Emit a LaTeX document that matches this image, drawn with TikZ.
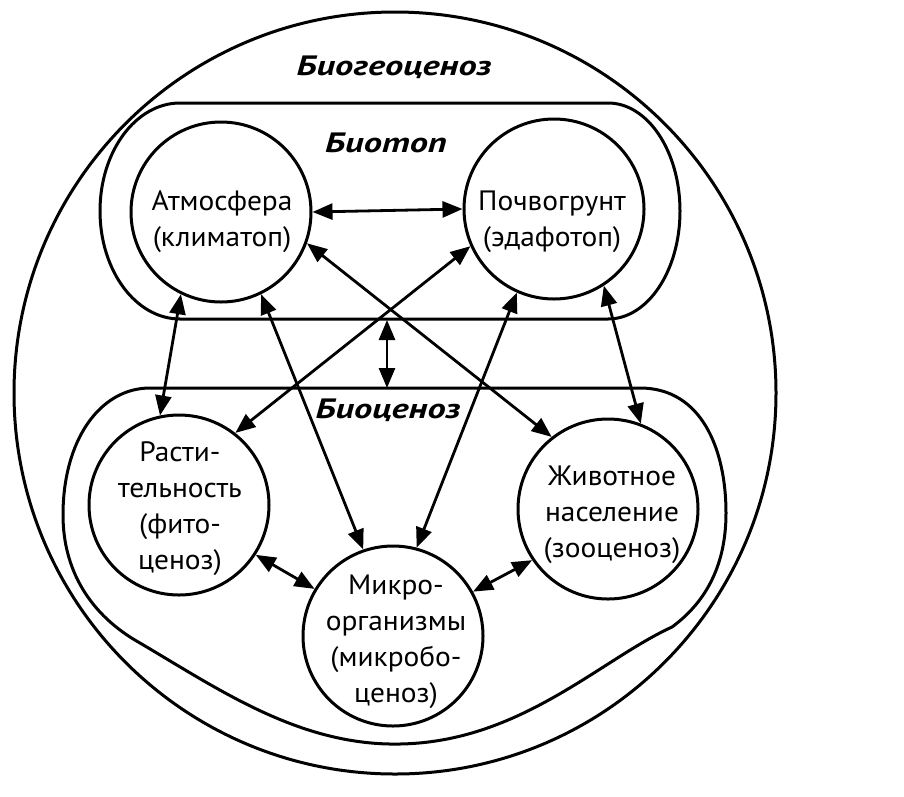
\documentclass[tikz,border=0pt]{standalone}
\usepackage{fontspec}
\setmainfont{PT Sans}
\newfontfamily\bodyfont[FakeStretch=1.05]{PT Sans}
\newfontfamily\titlefont[FakeStretch=1.3]{PT Sans}
\usetikzlibrary{arrows.meta}
\begin{document}
\begin{tikzpicture}[x=1pt,y=-1pt,
  ln/.style={line width=3pt},
  bub/.style={circle, draw, line width=3pt, minimum size=180pt, inner sep=0pt},
  txt/.style={align=center, font=\bodyfont\fontsize{28}{36}\selectfont, inner sep=0pt},
  ttl/.style={font=\titlefont\fontsize{28}{30}\selectfont\bfseries\itshape, inner sep=0pt},
  arr/.style={line width=2.8pt, >={Triangle[length=20pt,width=16pt]}, <->}
]
\fill[white] (0,0) rectangle (904,796);
\useasboundingbox (0,0) rectangle (904,796);

% outer biogeocenosis
\draw[ln] (395,393) circle[radius=381];

% biotop contour
\draw[ln] (180,103) -- (608,103)
  arc[start angle=-90,end angle=90,x radius=72,y radius=108]
  -- (180,319)
  arc[start angle=90,end angle=270,x radius=80,y radius=108] -- cycle;

% biocenosis contour
\draw[ln] (150,388) -- (640,388)
  .. controls (702,388) and (726,450) .. (726,513)
  .. controls (726,570) and (702,605) .. (672,627)
  .. controls (600,660) and (520,742) .. (400,744)
  .. controls (300,746) and (220,690) .. (140,643)
  .. controls (90,615) and (63,570) .. (63,515)
  .. controls (63,440) and (100,388) .. (150,388) -- cycle;

\coordinate (btS) at (387,320);
\coordinate (bcN) at (387,388);

% component circles
\node[bub] (atm) at (221,212) {};
\node[bub] (poch) at (554,209) {};
\node[bub] (rast) at (179,505) {};
\node[bub] (zhiv) at (608,509) {};
\node[bub] (mikro) at (393,636) {};

% arrows
\draw[arr] (atm.0) -- (poch.180);
\draw[arr] (atm.244) -- (rast.102);
\draw[arr] (atm.296) -- (mikro.109);
\draw[arr] (atm.340) -- (zhiv.128);
\draw[arr] (poch.204) -- (rast.52);
\draw[arr] (poch.246) -- (mikro.75);
\draw[arr] (poch.303) -- (zhiv.69);
\draw[arr] (btS) -- (bcN);
\draw[arr] (rast.327) -- (mikro.149);
\draw[arr] (zhiv.214) -- (mikro.29);

% texts
\node[ttl] (bgcT) at (394,67) {Биогеоценоз};
\node[ttl] (btT) at (386,143) {Биотоп};
\node[ttl] (bcT) at (388,410) {Биоценоз};

\node[txt] (atmT) at (222,222) {Атмосфера\\(климатоп)};
\node[txt] (pochT) at (552,222) {Почвогрунт\\(эдафотоп)};
\node[txt] (rastT) at (180,509) {Расти-\\тельность\\(фито-\\ценоз)};
\node[txt] (zhivT) at (612,515) {Животное\\население\\(зооценоз)};
\node[txt] (mikroT) at (396,642) {Микро-\\организмы\\(микробо-\\ценоз)};
\end{tikzpicture}
\end{document}
